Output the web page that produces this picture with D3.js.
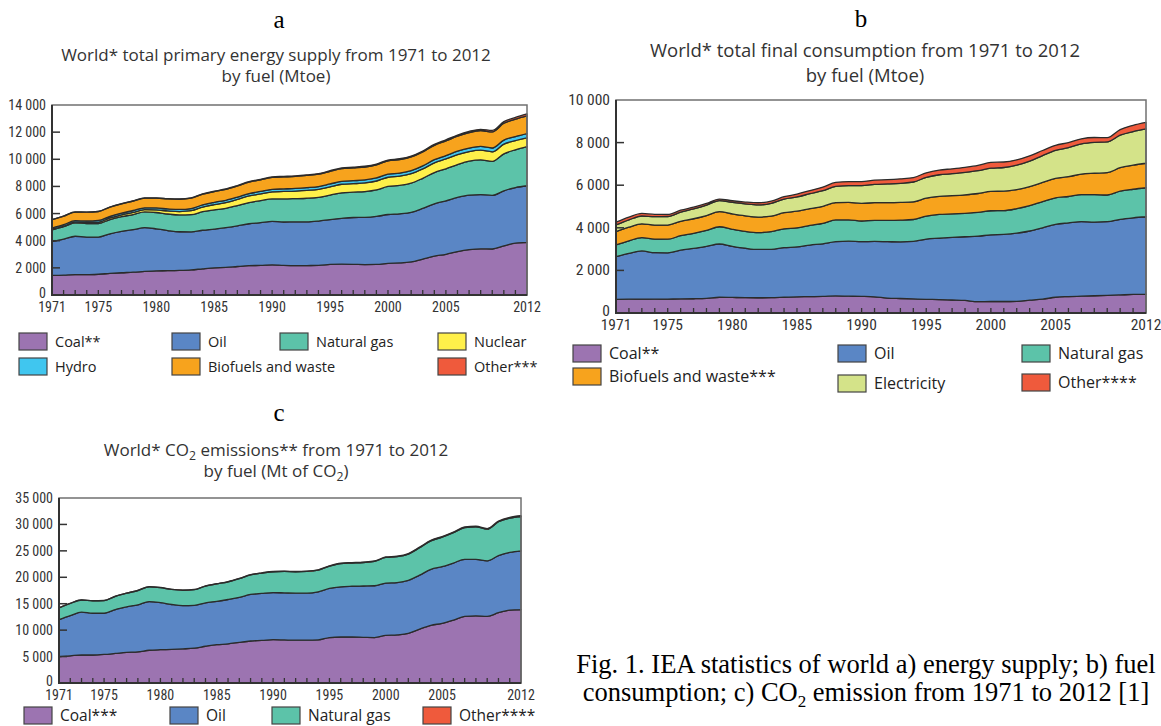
<!DOCTYPE html>
<html>
<head>
<meta charset="utf-8">
<script src="https://cdn.jsdelivr.net/npm/d3@7"></script>
<style>
body{margin:0;background:#fff}
svg{display:block}
</style>
</head>
<body>
<script>
// years on the x axis
const years = d3.range(1971, 2013);
const yearLabels = [1971, 1975, 1980, 1985, 1990, 1995, 2000, 2005, 2012];

// a) total primary energy supply (Mtoe)
const tpesCoal = [1440,1460,1500,1500,1530,1590,1640,1680,1740,1780,1790,1810,1850,1930,2000,2030,2100,2160,2180,2220,2180,2160,2170,2180,2250,2270,2260,2240,2250,2330,2360,2440,2650,2860,3000,3200,3340,3400,3390,3620,3820,3880];
const tpesOil = [2490,2650,2830,2770,2740,2920,3050,3130,3220,3100,2960,2850,2800,2840,2860,2930,2990,3090,3150,3200,3200,3230,3220,3270,3310,3380,3450,3480,3540,3600,3620,3650,3730,3860,3940,3990,4020,4000,3950,4060,4100,4170];
const tpesGas = [870,920,980,1000,1000,1050,1080,1120,1160,1200,1220,1240,1270,1370,1410,1430,1500,1560,1620,1660,1700,1710,1740,1750,1800,1880,1870,1900,1950,2070,2090,2150,2220,2300,2360,2420,2500,2560,2510,2720,2780,2880];
const tpesNuclear = [29,40,53,65,100,115,135,160,165,186,225,250,290,340,390,420,450,490,500,526,550,560,580,590,608,630,625,638,660,676,690,697,688,714,722,728,709,712,703,719,674,642];
const tpesHydro = [104,107,110,118,123,125,128,136,142,147,149,152,158,162,167,170,172,176,178,184,189,190,199,200,212,214,219,219,222,225,221,224,225,238,252,260,261,274,277,295,299,316];
const tpesBio = [620,630,640,650,660,670,685,700,715,730,740,755,770,785,795,810,825,840,855,870,880,890,900,910,925,935,945,955,970,985,995,1010,1030,1055,1080,1100,1130,1160,1190,1240,1280,1310];
const tpesOther = [6,6,6,7,8,8,9,10,11,12,14,16,18,20,23,26,29,32,35,40,42,44,46,48,50,52,54,56,58,60,63,66,69,72,80,88,95,105,112,120,135,150];
const tpesTicks = [0,2000,4000,6000,8000,10000,12000,14000];

// b) total final consumption (Mtoe)
const tfcCoal = [643,650,655,650,655,660,670,690,740,730,720,715,720,740,760,770,780,800,790,780,760,700,680,660,640,630,610,590,530,540,540,550,600,650,740,770,790,810,830,850,870,880];
const tfcOil = [2000,2150,2260,2180,2170,2290,2360,2440,2500,2400,2320,2270,2270,2330,2340,2420,2470,2550,2580,2570,2600,2650,2660,2700,2830,2880,2940,2990,3080,3130,3150,3200,3250,3350,3420,3460,3500,3460,3460,3550,3600,3640];
const tfcGas = [550,590,620,640,640,680,710,750,810,800,790,790,830,880,900,920,960,1020,1000,970,990,1000,1020,1030,1080,1120,1100,1100,1110,1130,1120,1150,1190,1230,1250,1240,1270,1290,1250,1320,1340,1360];
const tfcBio = [630,640,650,660,665,675,685,695,710,720,730,730,730,760,780,790,800,810,820,830,830,830,830,830,840,850,860,870,890,910,910,890,890,900,910,930,960,1000,1050,1100,1130,1150];
const tfcElec = [310,340,370,390,400,430,460,490,520,540,560,570,600,640,670,700,730,760,790,830,860,880,900,930,980,1010,1030,1050,1070,1090,1110,1150,1200,1260,1310,1360,1420,1450,1440,1530,1580,1610];
const tfcOther = [130,130,120,110,100,90,85,80,70,80,90,100,100,110,130,150,170,190,190,190,200,200,210,210,210,220,230,240,250,270,260,250,250,240,240,240,240,230,200,260,290,310];
const tfcTicks = [0,2000,4000,6000,8000,10000];

// c) CO2 emissions (Mt of CO2)
const co2Coal = [5000,5150,5300,5300,5400,5600,5800,5900,6200,6300,6350,6450,6600,6950,7250,7400,7700,7950,8050,8200,8150,8100,8100,8150,8600,8700,8700,8650,8600,9000,9100,9400,10200,10900,11300,11900,12600,12700,12600,13300,13800,13900];
const co2Oil = [7000,7600,8100,7900,7800,8300,8600,8900,9200,8900,8500,8200,8100,8200,8200,8400,8500,8800,8900,8900,8900,8900,8900,9100,9300,9500,9600,9700,9800,9900,9900,10000,10200,10600,10700,10800,10800,10700,10500,10800,10900,11100];
const co2Gas = [2200,2300,2300,2350,2400,2500,2600,2700,2800,2850,2850,2900,2950,3200,3300,3350,3550,3700,3850,3950,4050,4050,4100,4100,4200,4400,4400,4450,4600,4850,4900,5000,5200,5400,5600,5750,6000,6150,6000,6400,6500,6500];
const co2Other = [20,20,20,20,20,25,25,25,30,30,30,35,35,40,40,45,45,50,50,55,55,60,60,65,70,70,75,80,80,85,90,90,95,100,105,110,115,120,125,135,145,150];
const co2Ticks = [0,5000,10000,15000,20000,25000,30000,35000];

const COL = {
  coal: "#9c74b1", oil: "#5a86c5", gas: "#5cc3a9", nuclear: "#fff04a",
  hydro: "#40c6ef", bio: "#f7a31d", other: "#ef5a3c", elec: "#d4e389"
};

const W = 1161, H = 726;
const svg = d3.select("body").append("svg").attr("width", W).attr("height", H);

const loc = d3.formatLocale({decimal: ".", thousands: " ", grouping: [3], currency: ["", ""]});
const fmt = loc.format(",");

const SANS = "'Open Sans', 'DejaVu Sans', sans-serif";
const NARROW = "'Liberation Sans Narrow', 'Arial Narrow', 'Roboto Condensed', sans-serif";
const SERIF = "'Liberation Serif', 'Times New Roman', serif";

function drawPanel(p) {
  let x = d3.scaleLinear().domain([1971, 2012]).range([p.x0, p.x1]);
  let y = d3.scaleLinear().domain([0, p.max]).range([p.y1, p.y0]);

  let rows = years.map(function(yr, i) {
    let r = {year: yr};
    p.keys.forEach((k, j) => r[k] = p.series[j][i]);
    return r;
  });
  let stacked = d3.stack().keys(p.keys)(rows);

  let area = d3.area()
    .x(d => x(d.data.year))
    .y0(d => y(d[0]))
    .y1(d => y(d[1]))
    .curve(d3.curveMonotoneX);

  let g = svg.append("g");

  g.selectAll("path.layer")
    .data(stacked)
    .join("path")
    .attr("class", "layer")
    .attr("d", area)
    .attr("fill", d => p.colors[d.key])
    .attr("stroke", "#2b2b2b")
    .attr("stroke-width", 1.3)
    .attr("stroke-linejoin", "round");

  // frame
  g.append("rect")
    .attr("x", p.x0).attr("y", p.y0)
    .attr("width", p.x1 - p.x0).attr("height", p.y1 - p.y0)
    .attr("fill", "none").attr("stroke", "#707070").attr("stroke-width", 1.5);
  g.append("path")
    .attr("d", `M${p.x0},${p.y0}V${p.y1}H${p.x1}`)
    .attr("fill", "none").attr("stroke", "#333").attr("stroke-width", 2);

  // y ticks (inside) + labels
  p.ticks.forEach(function(t) {
    if (t > 0 && t < p.max) {
      g.append("line")
        .attr("x1", p.x0).attr("x2", p.x0 + 8)
        .attr("y1", y(t)).attr("y2", y(t))
        .attr("stroke", "#333").attr("stroke-width", 1.5);
    }
    g.append("text")
      .attr("x", p.x0 - 6)
      .attr("y", y(t) + (t == 0 ? 3 : 5))
      .attr("text-anchor", "end")
      .attr("font-family", NARROW)
      .attr("font-size", p.tickSize)
      .attr("fill", "#333")
      .text(fmt(t));
  });

  // x ticks: one per year, inside
  years.forEach(function(yr) {
    if (yr == 1971 || yr == 2012) return;
    g.append("line")
      .attr("x1", x(yr)).attr("x2", x(yr))
      .attr("y1", p.y1).attr("y2", p.y1 - 5)
      .attr("stroke", "#333").attr("stroke-width", 1.3);
  });
  yearLabels.forEach(function(yr) {
    g.append("text")
      .attr("x", x(yr))
      .attr("y", p.y1 + 17)
      .attr("text-anchor", "middle")
      .attr("font-family", NARROW)
      .attr("font-size", p.tickSize)
      .attr("fill", "#333")
      .text(yr);
  });

  // panel letter
  svg.append("text")
    .attr("x", p.letterX).attr("y", p.letterY)
    .attr("text-anchor", "middle")
    .attr("font-family", SERIF)
    .attr("font-size", "25px")
    .attr("fill", "#000")
    .text(p.letter);

  // title lines, each a list of plain strings and {sub: ...} parts
  p.title.forEach(function(line, li) {
    let t = svg.append("text")
      .attr("x", p.titleX).attr("y", p.titleY[li])
      .attr("text-anchor", "middle")
      .attr("font-family", SANS)
      .attr("font-size", p.titleSize)
      .attr("fill", "#333");
    let shift = 0;
    line.forEach(function(part) {
      if (typeof part === "string") {
        t.append("tspan").attr("dy", shift).text(part);
        shift = 0;
      } else {
        t.append("tspan").attr("dy", 4).attr("font-size", "0.72em").text(part.sub);
        shift = -4;
      }
    });
  });

  // legend
  p.legend.forEach(function(it) {
    svg.append("rect")
      .attr("x", it.x).attr("y", it.y)
      .attr("width", 28).attr("height", 17)
      .attr("fill", p.colors[it.key])
      .attr("stroke", "#444").attr("stroke-width", 1.2);
    svg.append("text")
      .attr("x", it.x + 36).attr("y", it.y + 14)
      .attr("font-family", SANS)
      .attr("font-size", p.legendSize)
      .attr("fill", "#222")
      .text(it.label);
  });
}

// a
drawPanel({
  keys: ["coal", "oil", "gas", "nuclear", "hydro", "bio", "other"],
  series: [tpesCoal, tpesOil, tpesGas, tpesNuclear, tpesHydro, tpesBio, tpesOther],
  colors: COL,
  x0: 52, x1: 527, y0: 105, y1: 295, max: 14000, ticks: tpesTicks,
  tickSize: "14px", titleSize: "17px", legendSize: "14.5px",
  letter: "a", letterX: 279, letterY: 28,
  title: [["World* total primary energy supply from 1971 to 2012"], ["by fuel (Mtoe)"]],
  titleX: 276, titleY: [61, 82],
  legend: [
    {key: "coal", label: "Coal**", x: 19, y: 333},
    {key: "oil", label: "Oil", x: 172, y: 333},
    {key: "gas", label: "Natural gas", x: 280, y: 333},
    {key: "nuclear", label: "Nuclear", x: 438, y: 333},
    {key: "hydro", label: "Hydro", x: 19, y: 358},
    {key: "bio", label: "Biofuels and waste", x: 172, y: 358},
    {key: "other", label: "Other***", x: 438, y: 358}
  ]
});

// b
drawPanel({
  keys: ["coal", "oil", "gas", "bio", "elec", "other"],
  series: [tfcCoal, tfcOil, tfcGas, tfcBio, tfcElec, tfcOther],
  colors: COL,
  x0: 616, x1: 1146, y0: 100, y1: 313, max: 10000, ticks: tfcTicks,
  tickSize: "15.5px", titleSize: "18.5px", legendSize: "16px",
  letter: "b", letterX: 861, letterY: 27,
  title: [["World* total final consumption from 1971 to 2012"], ["by fuel (Mtoe)"]],
  titleX: 865, titleY: [57, 82],
  legend: [
    {key: "coal", label: "Coal**", x: 573, y: 345},
    {key: "oil", label: "Oil", x: 838, y: 345},
    {key: "gas", label: "Natural gas", x: 1022, y: 345},
    {key: "bio", label: "Biofuels and waste***", x: 573, y: 368},
    {key: "elec", label: "Electricity", x: 838, y: 375},
    {key: "other", label: "Other****", x: 1022, y: 374}
  ]
});

// c
drawPanel({
  keys: ["coal", "oil", "gas", "other"],
  series: [co2Coal, co2Oil, co2Gas, co2Other],
  colors: COL,
  x0: 59, x1: 521, y0: 498, y1: 683, max: 35000, ticks: co2Ticks,
  tickSize: "14px", titleSize: "17px", legendSize: "15.5px",
  letter: "c", letterX: 279, letterY: 421,
  title: [["World* CO", {sub: "2"}, " emissions** from 1971 to 2012"], ["by fuel (Mt of CO", {sub: "2"}, ")"]],
  titleX: 276, titleY: [456, 477],
  legend: [
    {key: "coal", label: "Coal***", x: 24, y: 707},
    {key: "oil", label: "Oil", x: 170, y: 707},
    {key: "gas", label: "Natural gas", x: 272, y: 707},
    {key: "other", label: "Other****", x: 423, y: 707}
  ]
});

// figure caption
svg.append("text")
  .attr("x", 866).attr("y", 673)
  .attr("text-anchor", "middle")
  .attr("font-family", SERIF).attr("font-size", "26.5px").attr("fill", "#000")
  .text("Fig. 1. IEA statistics of world a) energy supply; b) fuel");
let cap2 = svg.append("text")
  .attr("x", 866).attr("y", 701)
  .attr("text-anchor", "middle")
  .attr("font-family", SERIF).attr("font-size", "26.5px").attr("fill", "#000");
cap2.append("tspan").text("consumption; c) CO");
cap2.append("tspan").attr("dy", 6).attr("font-size", "17px").text("2");
cap2.append("tspan").attr("dy", -6).text(" emission from 1971 to 2012 [1]");
</script>
</body>
</html>
